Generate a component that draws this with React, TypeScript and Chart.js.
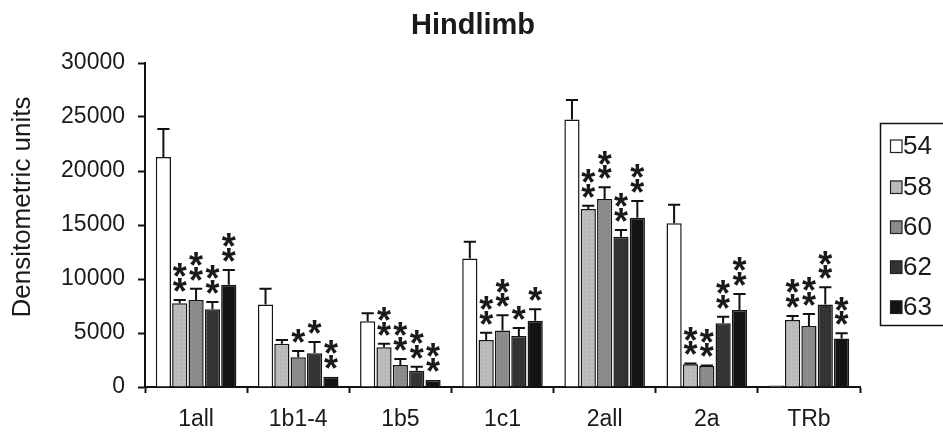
import React, { useEffect, useRef } from 'react';
import { Chart, registerables } from 'chart.js';

Chart.register(...registerables);

const titleText = 'Hindlimb';
const yAxisTitle = 'Densitometric units';
const categories = ['1all', '1b1-4', '1b5', '1c1', '2all', '2a', 'TRb'];
const seriesLabels = ['54', '58', '60', '62', '63'];
const yTicks = [0, 5000, 10000, 15000, 20000, 25000, 30000];

const values54 = [21300, 7650, 6080, 11900, 24780, 15160, 150];
const values58 = [7750, 4000, 3670, 4350, 16480, 2100, 6200];
const values60 = [8050, 2750, 2040, 5220, 17410, 1940, 5650];
const values62 = [7190, 3120, 1510, 4720, 13920, 5900, 7650];
const values63 = [9470, 950, 650, 6140, 15680, 7130, 4500];

const err54 = [2600, 1450, 740, 1550, 1790, 1720, 0];
const err58 = [300, 350, 330, 680, 310, 80, 370];
const err60 = [1050, 580, 560, 1420, 1080, 60, 1110];
const err62 = [680, 1050, 370, 740, 620, 610, 1580];
const err63 = [1360, 0, 0, 1050, 1540, 1480, 470];

const stars54 = [0, 0, 0, 0, 0, 0, 0];
const stars58 = [2, 0, 2, 2, 2, 2, 2];
const stars60 = [2, 1, 2, 2, 2, 2, 2];
const stars62 = [2, 1, 2, 1, 2, 2, 2];
const stars63 = [2, 2, 2, 1, 2, 2, 2];

const baseColors = ['#ffffff', '#bfbfbf', '#8e8e8e', '#363636', '#151515'];
const dotColors = ['#ffffff', '#aaaaaa', '#7c7c7c', '#2a2a2a', '#0d0d0d'];

const FONT = '"Liberation Sans", Arial, sans-serif';

function makePattern(base: string, dot: string): CanvasPattern | string {
  const c = document.createElement('canvas');
  c.width = 4;
  c.height = 4;
  const g = c.getContext('2d');
  if (!g) return base;
  g.fillStyle = base;
  g.fillRect(0, 0, 4, 4);
  g.fillStyle = dot;
  g.fillRect(0, 0, 1, 1);
  g.fillRect(2, 2, 1, 1);
  g.fillRect(1, 3, 1, 1);
  const p = g.createPattern(c, 'repeat');
  return p || base;
}

export default function App() {
  const ref = useRef<HTMLCanvasElement>(null);

  useEffect(() => {
    const canvas = ref.current;
    if (!canvas) return;
    const allValues = [values54, values58, values60, values62, values63];
    const allErr = [err54, err58, err60, err62, err63];
    const allStars = [stars54, stars58, stars60, stars62, stars63];
    const fills = baseColors.map((b, i) => (i === 0 ? b : makePattern(b, dotColors[i])));

    const errorPlugin = {
      id: 'errorBarsAndStars',
      afterDatasetsDraw(chart: any) {
        const ctx = chart.ctx;
        const ys = chart.scales.y;
        ctx.save();
        chart.data.datasets.forEach((ds: any, di: number) => {
          const meta = chart.getDatasetMeta(di);
          meta.data.forEach((bar: any, i: number) => {
            const v = ds.data[i] as number;
            const e = allErr[di][i];
            const top = ys.getPixelForValue(v);
            const et = ys.getPixelForValue(v + e);
            const half = bar.width / 2 - 1.5;
            if (e > 0) {
              ctx.strokeStyle = '#111';
              ctx.lineWidth = 2;
              ctx.beginPath();
              ctx.moveTo(bar.x, top);
              ctx.lineTo(bar.x, et);
              ctx.moveTo(bar.x - half, et);
              ctx.lineTo(bar.x + half, et);
              ctx.stroke();
            }
            const n = allStars[di][i];
            if (n > 0) {
              ctx.font = 'bold 36px ' + FONT;
              ctx.fillStyle = '#1a1a1a';
              ctx.textAlign = 'center';
              ctx.textBaseline = 'alphabetic';
              const m = ctx.measureText('*');
              const off = (m.actualBoundingBoxAscent - m.actualBoundingBoxDescent) / 2;
              const base = (e > 0 ? et : top) - 15;
              for (let k = 0; k < n; k++) {
                const cy = base - k * 14.7;
                ctx.fillText('*', bar.x, cy + off);
              }
            }
          });
        });
        ctx.restore();
      },
    };

    const decorPlugin = {
      id: 'titleLegend',
      afterDraw(chart: any) {
        const ctx = chart.ctx;
        ctx.save();
        // title
        ctx.fillStyle = '#1a1a1a';
        ctx.font = 'bold 29px ' + FONT;
        ctx.textAlign = 'center';
        ctx.textBaseline = 'middle';
        ctx.fillText(titleText, 473, 26);
        // y axis title
        ctx.save();
        ctx.translate(23, 207);
        ctx.rotate(-Math.PI / 2);
        ctx.font = '26px ' + FONT;
        ctx.textAlign = 'center';
        ctx.textBaseline = 'middle';
        ctx.fillText(yAxisTitle, 0, 0);
        ctx.restore();
        // legend
        ctx.strokeStyle = '#111';
        ctx.lineWidth = 1.5;
        ctx.strokeRect(880.5, 123.5, 70, 202);
        const itemY = [146, 187, 227, 267, 307];
        seriesLabels.forEach((lab, i) => {
          const y = itemY[i];
          ctx.fillStyle = fills[i] as any;
          ctx.fillRect(890, y - 6.5, 12, 13);
          ctx.lineWidth = 1.2;
          ctx.strokeStyle = '#222';
          ctx.strokeRect(890.5, y - 6, 11.5, 12.5);
          ctx.fillStyle = '#1a1a1a';
          ctx.font = '26px ' + FONT;
          ctx.textAlign = 'left';
          ctx.textBaseline = 'middle';
          ctx.fillText(lab, 903, y + 1);
        });
        ctx.restore();
      },
    };

    const chart = new Chart(canvas, {
      type: 'bar',
      data: {
        labels: categories,
        datasets: seriesLabels.map((lab, i) => ({
          label: lab,
          data: allValues[i],
          backgroundColor: fills[i] as any,
          borderColor: '#151515',
          borderWidth: 1.5,
          categoryPercentage: 0.8,
          barPercentage: 0.93,
        })),
      },
      options: {
        responsive: false,
        animation: false,
        devicePixelRatio: 1,
        layout: { padding: { left: 0, right: 83, top: 63, bottom: 0 } },
        plugins: {
          legend: { display: false },
          tooltip: { enabled: false },
          title: { display: false },
        },
        scales: {
          x: {
            afterFit: (s: any) => {
              s.height = 50;
            },
            grid: {
              display: true,
              offset: true,
              drawOnChartArea: false,
              drawTicks: true,
              tickLength: 6,
              tickColor: '#111',
              tickWidth: 2,
            },
            border: { display: true, color: '#111', width: 2 },
            ticks: {
              color: '#1a1a1a',
              padding: 13,
              font: { size: 23, family: FONT },
            },
          },
          y: {
            min: 0,
            max: 30000,
            afterFit: (s: any) => {
              s.width = 145;
              s.paddingTop = 0;
              s.paddingBottom = 0;
            },
            afterBuildTicks: (s: any) => {
              s.ticks = yTicks.map((v) => ({ value: v }));
            },
            grid: {
              display: true,
              drawOnChartArea: false,
              drawTicks: true,
              tickLength: 7,
              tickColor: '#111',
              tickWidth: 2,
            },
            border: { display: true, color: '#111', width: 2 },
            ticks: {
              color: '#1a1a1a',
              padding: 13,
              font: { size: 23, family: FONT },
              callback: (v: any) => String(v),
            },
            title: { display: false },
          },
        },
      },
      plugins: [errorPlugin, decorPlugin],
    });

    return () => {
      chart.destroy();
    };
  }, []);

  return (
    <div style={{ position: 'absolute', left: 0, top: 0, width: 943, height: 437, background: '#fff' }}>
      <canvas ref={ref} width={943} height={437} />
    </div>
  );
}
